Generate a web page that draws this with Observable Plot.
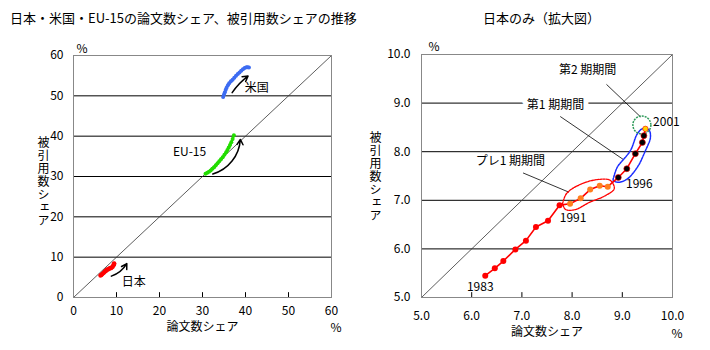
<!DOCTYPE html>
<html>
<head>
<meta charset="utf-8">
<script src="https://cdn.jsdelivr.net/npm/d3@7"></script>
<script src="https://cdn.jsdelivr.net/npm/@observablehq/plot@0.6"></script>
<style>
  html, body { margin: 0; padding: 0; background: #fff; }
  #wrap { position: relative; width: 710px; height: 350px; font-family: "Noto Sans CJK JP", sans-serif; color: #000; }
  #left, #right { position: absolute; top: 0; }
  #left { left: 0; }
  #right { left: 355px; }
  .ttl { position: absolute; font-size: 13px; white-space: nowrap; line-height: 1; z-index: 2; }
</style>
</head>
<body>
<div id="wrap">
  <div id="left"></div>
  <div id="right"></div>
  <div class="ttl" id="t1" style="left:10px; top:11px;"></div>
  <div class="ttl" id="t2" style="left:483px; top:11px;"></div>
</div>
<script>
// ---------- data ----------
const titleLeft = "日本・米国・EU-15の論文数シェア、被引用数シェアの推移";
const titleRight = "日本のみ（拡大図）";
const xTitle = "論文数シェア";
const yTitle = "被引用数シェア";

const years = [1983,1984,1985,1986,1987,1988,1989,1990,1991,1992,1993,1994,1995,1996,1997,1998,1999,2000,2001];

// Japan: paper share (%) and citation share (%)
const japanPaper    = [6.27,6.46,6.63,6.87,7.08,7.28,7.52,7.75,7.96,8.17,8.36,8.55,8.71,8.92,9.09,9.26,9.40,9.43,9.46];
const japanCitation = [5.45,5.60,5.75,5.99,6.17,6.45,6.58,6.90,6.93,7.04,7.22,7.30,7.28,7.47,7.65,7.96,8.19,8.33,8.47];

// USA
const usPaper    = [34.8,35.0,35.2,35.4,35.6,35.9,36.2,36.6,37.0,37.4,37.8,38.2,38.6,39.0,39.4,39.8,40.2,40.5,40.8];
const usCitation = [49.7,50.3,50.9,51.5,52.0,52.6,53.1,53.6,54.0,54.5,55.0,55.4,55.8,56.2,56.6,56.9,57.1,57.1,57.0];

// EU-15
const euPaper    = [30.7,31.1,31.5,31.9,32.3,32.7,33.1,33.5,33.9,34.3,34.7,35.1,35.5,35.8,36.1,36.4,36.7,37.0,37.3];
const euCitation = [30.7,30.9,31.2,31.5,31.9,32.3,32.8,33.3,33.8,34.3,34.8,35.4,36.0,36.6,37.2,37.8,38.5,39.3,40.2];

const leftTicks = [0,10,20,30,40,50,60];
const leftGrid = [10,20,30,40,50];
const rightTicks = [5,6,7,8,9,10];
const rightGrid = [6,7,8,9];

// annotations (data units)
const leftLabels = [
  {text: "米国", x: 42.6, y: 51.9},
  {text: "EU-15", x: 27.0, y: 36.0},
  {text: "日本", x: 14.0, y: 3.7}
];
const leftArrows = [
  {x1: 36.9, y1: 50.8, x2: 40.6, y2: 54.9, bend: 10},
  {x1: 32.4, y1: 30.6, x2: 38.8, y2: 39.2, bend: -35},
  {x1: 8.8, y1: 5.3, x2: 12.4, y2: 8.4, bend: -20}
];

const periodLabels = [
  {text: "第2 期期間", x: 8.31, y: 9.67, halo: false},
  {text: "第1 期期間", x: 7.67, y: 8.96, halo: true},
  {text: "プレ1 期期間", x: 6.77, y: 7.80, halo: false}
];
const leaders = [
  {x1: 8.69, y1: 9.38, x2: 9.36, y2: 8.72},
  {x1: 7.77, y1: 8.72, x2: 9.02, y2: 7.84},
  {x1: 7.03, y1: 7.56, x2: 7.93, y2: 7.17}
];
const yearLabels = [
  {year: 1983, dx: -5, dy: 12},
  {year: 1991, dx: 3, dy: 14},
  {year: 1996, dx: 21, dy: 7},
  {year: 2001, dx: 21, dy: -7}
];
// hand-drawn outline loops around periods
const preLoop = [[7.81,6.93],[7.89,7.14],[8.17,7.33],[8.53,7.43],[8.76,7.41],[8.84,7.24],[8.67,7.10],[8.33,6.95],[8.07,6.81],[7.87,6.81],[7.81,6.93]];
const firstLoop = [[8.83,7.48],[8.90,7.68],[9.16,8.02],[9.30,8.37],[9.40,8.47],[9.53,8.45],[9.56,8.29],[9.46,8.02],[9.30,7.68],[9.10,7.44],[8.93,7.37],[8.82,7.41],[8.83,7.48]];
const secondCircle = [{x: 9.39, y: 8.55}];

// ---------- build ----------
const font = "'Noto Sans CJK JP', sans-serif";
document.getElementById("t1").textContent = titleLeft;
document.getElementById("t2").textContent = titleRight;

const japan = years.map((year, i) => ({year, x: japanPaper[i], y: japanCitation[i]}));
const us = years.map((year, i) => ({year, x: usPaper[i], y: usCitation[i]}));
const eu = years.map((year, i) => ({year, x: euPaper[i], y: euCitation[i]}));

function periodFill(y) {
  if (y <= 1990) return "#ff0000";
  if (y <= 1995) return "#ff7f1e";
  if (y <= 2000) return "#000000";
  return "#ffd200";
}

function verticalize(svg) {
  d3.select(svg).selectAll("text")
    .filter(function() { return this.textContent === yTitle; })
    .style("writing-mode", "vertical-rl")
    .style("letter-spacing", "1px")
    .attr("dy", null);
}

const left = Plot.plot({
  width: 355, height: 350,
  marginLeft: 73, marginRight: 24, marginTop: 55, marginBottom: 53,
  style: {fontFamily: font, fontSize: "12px", background: "transparent", color: "#000"},
  x: {domain: [0, 60], label: null},
  y: {domain: [0, 60], label: null},
  color: {type: "identity"},
  marks: [
    Plot.ruleY(leftGrid, {stroke: "#000", strokeWidth: 1}),
    Plot.link([{a: leftTicks[0], b: leftTicks[leftTicks.length - 1]}], {x1: "a", y1: "a", x2: "b", y2: "b", stroke: "#333", strokeWidth: 0.8}),
    Plot.frame({stroke: "#888"}),
    Plot.ruleX(leftTicks.slice(1, -1), {x: d => d, y1: 0, y2: 1.2, stroke: "#000"}),
    Plot.axisX({ticks: leftTicks, tickSize: 0, tickPadding: 9, fontSize: 12, label: null}),
    Plot.axisY({ticks: leftTicks, tickSize: 0, tickPadding: 10, fontSize: 12, label: null}),
    Plot.line(japan, {x: "x", y: "y", stroke: "#ff0000", strokeWidth: 3}),
    Plot.dot(japan, {x: "x", y: "y", r: 2.2, fill: "#ff0000"}),
    Plot.line(us, {x: "x", y: "y", stroke: "#3d6cf2", strokeWidth: 2.5}),
    Plot.dot(us, {x: "x", y: "y", r: 2, fill: "#3d6cf2"}),
    Plot.line(eu, {x: "x", y: "y", stroke: "#22dd00", strokeWidth: 2.5}),
    Plot.dot(eu, {x: "x", y: "y", r: 2, fill: "#22dd00"}),
    ...leftArrows.map(a => Plot.arrow([a], {x1: "x1", y1: "y1", x2: "x2", y2: "y2", bend: a.bend, stroke: "#000", strokeWidth: 1.5, headLength: 6})),
    Plot.text(leftLabels, {x: "x", y: "y", text: "text", fontSize: 12, fill: "#000"}),
    Plot.text([xTitle], {frameAnchor: "bottom", dy: 33, fontSize: 12}),
    Plot.text(["%"], {frameAnchor: "bottom-right", dx: 10, dy: 34, fontSize: 12}),
    Plot.text(["%"], {frameAnchor: "top-left", dx: 3, dy: -11, fontSize: 12}),
    Plot.text([yTitle], {frameAnchor: "left", textAnchor: "middle", lineAnchor: "middle", dx: -30, dy: 2, fontSize: 12})
  ]
});
verticalize(left);
document.getElementById("left").appendChild(left);

const fmt = d3.format(".1f");
const right = Plot.plot({
  width: 355, height: 350,
  marginLeft: 66, marginRight: 38, marginTop: 54, marginBottom: 53,
  style: {fontFamily: font, fontSize: "12px", background: "transparent", color: "#000"},
  x: {domain: [5, 10], label: null},
  y: {domain: [5, 10], label: null},
  color: {type: "identity"},
  marks: [
    Plot.ruleY(rightGrid, {stroke: "#000", strokeWidth: 1}),
    Plot.link([{a: rightTicks[0], b: rightTicks[rightTicks.length - 1]}], {x1: "a", y1: "a", x2: "b", y2: "b", stroke: "#333", strokeWidth: 0.8}),
    Plot.frame({stroke: "#888"}),
    Plot.ruleX(rightTicks.slice(1, -1), {x: d => d, y1: 5, y2: 5.1, stroke: "#000"}),
    Plot.axisX({ticks: rightTicks, tickFormat: fmt, tickSize: 0, tickPadding: 14, fontSize: 12, label: null}),
    Plot.axisY({ticks: rightTicks, tickFormat: fmt, tickSize: 0, tickPadding: 11, fontSize: 12, label: null}),
    Plot.line(leaders.flatMap((d, i) => [{i, x: d.x1, y: d.y1}, {i, x: d.x2, y: d.y2}]), {x: "x", y: "y", z: "i", stroke: "#000", strokeWidth: 0.8}),
    Plot.text(periodLabels.filter(d => d.halo), {x: "x", y: "y", text: "text", fontSize: 12, stroke: "white", strokeWidth: 10, fill: "#000"}),
    Plot.text(periodLabels.filter(d => !d.halo), {x: "x", y: "y", text: "text", fontSize: 12, fill: "#000"}),
    Plot.line(preLoop, {x: d => d[0], y: d => d[1], stroke: "#ff0000", strokeWidth: 1.3, strokeDasharray: "2,1", curve: "catmull-rom"}),
    Plot.line(firstLoop, {x: d => d[0], y: d => d[1], stroke: "#1a2cff", strokeWidth: 1.5, strokeDasharray: "2,1", curve: "catmull-rom"}),
    Plot.dot(secondCircle, {x: "x", y: "y", r: 9, stroke: "#2e9a5a", strokeWidth: 1.5, strokeDasharray: "2,1", fill: "none"}),
    Plot.line(japan, {x: "x", y: "y", stroke: "#ff0000", strokeWidth: 1.6}),
    Plot.dot(japan, {x: "x", y: "y", r: d => d.year === 2001 ? 3 : 3.6, fill: d => periodFill(d.year), stroke: d => d.year >= 1996 ? "#ff0000" : "none", strokeWidth: 0.6}),
    ...yearLabels.map(l => Plot.text(japan.filter(d => d.year === l.year), {x: "x", y: "y", text: d => String(d.year), dx: l.dx, dy: l.dy, fontSize: 12, fill: "#000"})),
    Plot.text([xTitle], {frameAnchor: "bottom", dy: 38, fontSize: 12}),
    Plot.text(["%"], {frameAnchor: "bottom-right", dx: 10, dy: 40, fontSize: 12}),
    Plot.text(["%"], {frameAnchor: "top-left", dx: 7, dy: -12, fontSize: 12}),
    Plot.text([yTitle], {frameAnchor: "left", textAnchor: "middle", lineAnchor: "middle", dx: -46, dy: -3, fontSize: 12})
  ]
});
verticalize(right);
document.getElementById("right").appendChild(right);
</script>
</body>
</html>
